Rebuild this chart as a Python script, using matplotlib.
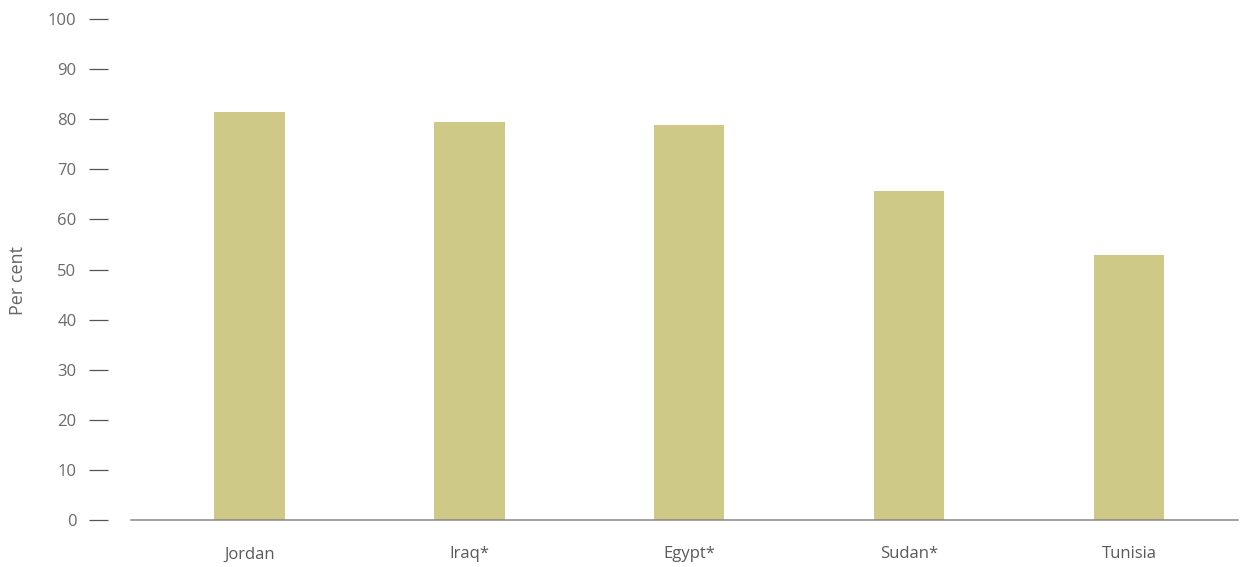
import matplotlib.pyplot as plt

countries = ["Jordan", "Iraq*", "Egypt*", "Sudan*", "Tunisia"]
values = [81.4, 79.4, 78.8, 65.7, 52.9]
y_ticks = [0, 10, 20, 30, 40, 50, 60, 70, 80, 90, 100]

plt.rcParams['font.family'] = ['Open Sans', 'DejaVu Sans']

fig = plt.figure(figsize=(12.45, 5.67), dpi=100)
ax = fig.add_axes([131 / 1245, 47 / 567, (1238 - 131) / 1245, (520 - 19) / 567])

ax.bar(range(len(countries)), values, width=0.32, color="#cfc987")

ax.set_xlim(-0.539, 4.496)
ax.set_ylim(0, 100)
ax.set_yticks(y_ticks)
ax.set_xticks(range(len(countries)))
ax.set_xticklabels(countries)

for s in ["top", "right", "left"]:
    ax.spines[s].set_visible(False)
ax.spines["left"].set_position(("outward", 16.5))
ax.spines["bottom"].set_color("#888888")
ax.spines["bottom"].set_linewidth(1.1)

ax.tick_params(axis="y", direction="out", length=13.7, width=0.9, color="#555555",
               pad=9, labelsize=12, labelcolor="#6a6a6a")
ax.tick_params(axis="x", length=0, pad=19, labelsize=12, labelcolor="#5a5a5a")

ax.set_ylabel("Per cent", fontsize=13, color="#666666")
ax.yaxis.set_label_coords(-0.094, 0.479)

fig.savefig("out.png", dpi=100)
